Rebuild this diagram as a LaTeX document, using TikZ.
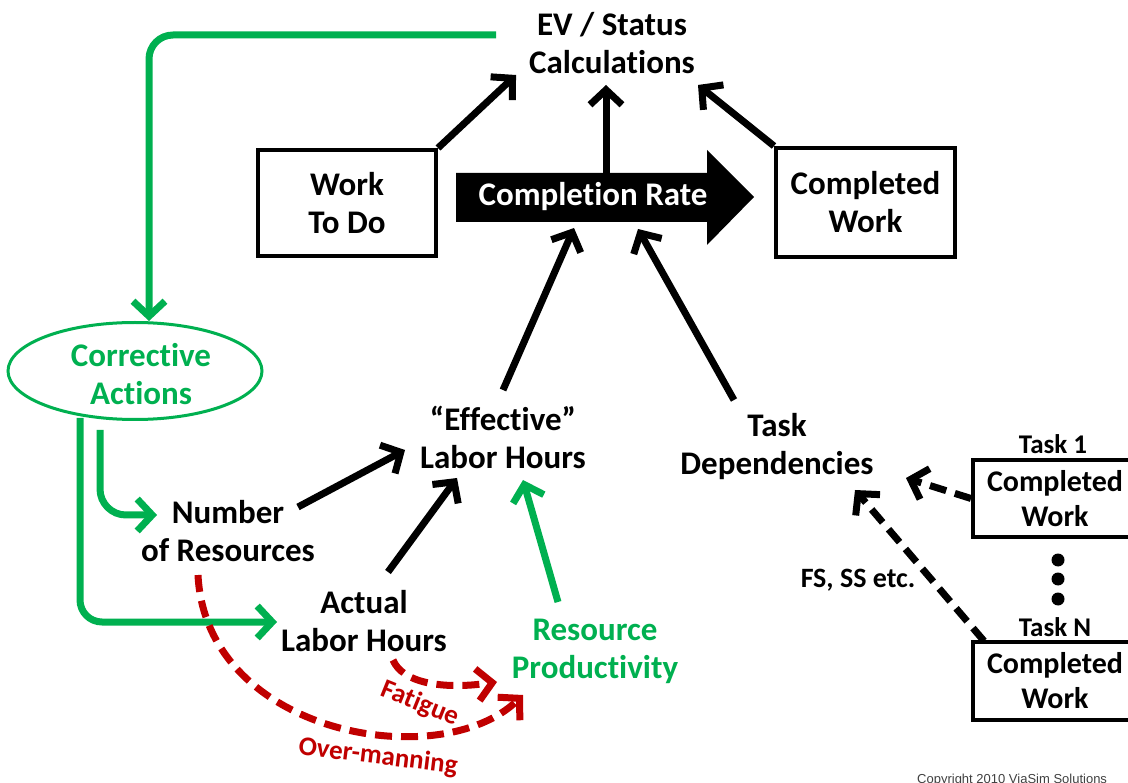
\documentclass[tikz,border=0pt]{standalone}
\usepackage{fontspec}
\setmainfont{Carlito}[Ligatures={NoCommon}]
\newfontfamily\copyfont{Liberation Sans}
\usetikzlibrary{arrows.meta,shapes.geometric,calc}
\definecolor{ogreen}{RGB}{0,176,80}
\definecolor{ored}{RGB}{192,0,0}
\begin{document}
\begin{tikzpicture}[x=1pt,y=-1pt,
  lbl/.style={font=\fontsize{33}{38}\selectfont\bfseries, align=center, inner sep=0pt},
  small/.style={font=\fontsize{30}{35}\selectfont\bfseries, align=center, inner sep=0pt},
  tasklbl/.style={font=\fontsize{27}{30}\selectfont\bfseries, inner sep=0pt},
  redlbl/.style={font=\fontsize{27}{30}\selectfont\bfseries, text=ored, inner sep=0pt},
  box/.style={draw, line width=4pt, inner sep=0pt},
  tip/.style={-{Straight Barb[length=15pt,width=32pt]}},
  arr/.style={line width=7pt, tip},
  garr/.style={line width=7pt, draw=ogreen, tip, rounded corners=24pt},
  rarr/.style={line width=7pt, draw=ored, tip, dash pattern=on 17pt off 9pt},
  darr/.style={line width=7pt, tip, dash pattern=on 17pt off 9pt},
  dot/.style={circle, fill=black, inner sep=0pt, minimum size=13pt}]
\useasboundingbox (0,0) rectangle (1128,783);
\clip (0,0) rectangle (1128,783);

% nodes
\node[lbl] (ev) at (612,43) {EV / Status\\Calculations};
\node[box, minimum width=178pt, minimum height=106pt] (wtd) at (347,203) {};
\node[lbl] at (wtd.center) {Work\\To Do};
\node[box, minimum width=179pt, minimum height=109pt] (cw) at (865.5,202.5) {};
\node[lbl] at (cw.center) {Completed\\Work};

% completion rate arrow
\fill (456,173) -- (707,173) -- (707,150) -- (754,197) -- (707,245) -- (707,222) -- (456,222) -- cycle;
\node[lbl, text=white] (cr) at (593,197) {Completion Rate};

\node[ellipse, draw=ogreen, line width=3pt, minimum width=254pt, minimum height=97pt, inner sep=0pt] (ca) at (135,371) {};
\node[lbl, text=ogreen] (catext) at (141,374) {Corrective\\Actions};

\node[lbl] (num) at (228,531) {Number\\of Resources};
\node[lbl] (act) at (364,621) {Actual\\Labor Hours};
\node[lbl] (eff) at (503,437) {“Effective”\\Labor Hours};
\node[lbl, text=ogreen] (rp) at (595,651) {Resource\\Productivity};
\node[lbl] (td) at (777,447) {Task\\Dependencies};
\node[font=\fontsize{28}{30}\selectfont\bfseries, inner sep=0pt] (fs) at (858,580) {FS, SS etc.};

\node[tasklbl] (t1l) at (1053,444) {Task 1};
\node[box, minimum width=167pt, minimum height=77pt] (t1) at (1056.5,498.5) {};
\node[small] at (1055,499) {Completed\\Work};
\node[dot] (d1) at (1058,560) {};
\node[dot] (d2) at (1058,579) {};
\node[dot] (d3) at (1058,599) {};
\node[tasklbl] (tNl) at (1055,627) {Task N};
\node[box, minimum width=167pt, minimum height=78pt] (tN) at (1056.5,681) {};
\node[small] at (1055,681) {Completed\\Work};

\node[redlbl, rotate=-22] (fat) at (420,704) {Fatigue};
\node[redlbl, rotate=-7] (om) at (378,757) {Over-manning};

\node[font=\copyfont\fontsize{13}{15}\selectfont, text=black!75, anchor=base west, inner sep=0pt] (copy) at (917,783) {Copyright 2010 ViaSim Solutions};

% connector end points
\coordinate (ev-a) at (516,75);
\coordinate (ev-b) at (606,85);
\coordinate (ev-c) at (698,85);
\coordinate (cr-top) at (606,173);
\coordinate (cr-a) at (574,228);
\coordinate (cr-b) at (638,229);
\coordinate (eff-top) at (503,390);
\coordinate (td-top) at (734,400);
\coordinate (num-r) at (298,507);
\coordinate (eff-a) at (405,450);
\coordinate (act-top) at (388,572);
\coordinate (eff-b) at (457,478);
\coordinate (rp-top) at (558,602);
\coordinate (eff-c) at (523,480);
\coordinate (ev-l) at (496,35);
\coordinate (ca-top) at (149,321);
\coordinate (ca-b1) at (80,418);
\coordinate (act-l) at (277,622);
\coordinate (ca-b2) at (100,430);
\coordinate (num-l) at (157,515);
\coordinate (num-b) at (198,575);
\coordinate (act-b) at (393,660);
\coordinate (rp-a) at (497,682);
\coordinate (rp-b) at (523,695);
\coordinate (td-a) at (906,478);
\coordinate (td-b) at (855,490);
\coordinate (tN-c) at (984,641);

% black arrows
\draw[arr] (wtd.north east) -- (ev-a);
\draw[arr] (cr-top) -- (ev-b);
\draw[arr] (cw.north west) -- (ev-c);
\draw[arr] (eff-top) -- (cr-a);
\draw[arr] (td-top) -- (cr-b);
\draw[arr] (num-r) -- (eff-a);
\draw[arr] (act-top) -- (eff-b);
\draw[arr, draw=ogreen] (rp-top) -- (eff-c);

% green feedback
\draw[garr] (ev-l) -- (149,35) -- (ca-top);
\draw[garr, rounded corners=22pt] (ca-b1) -- (80,622) -- (act-l);
\draw[garr, rounded corners=26pt] (ca-b2) -- (100,515) -- (num-l);

% red dashed
\draw[rarr] (num-b) .. controls (206,735) and (440,775) .. (rp-b);
\draw[rarr] (act-b) .. controls (402,682) and (440,690) .. (rp-a);

% black dashed
\draw[darr] (t1.west) -- (td-a);
\draw[darr] (tN-c) -- (td-b);
\end{tikzpicture}
\end{document}
